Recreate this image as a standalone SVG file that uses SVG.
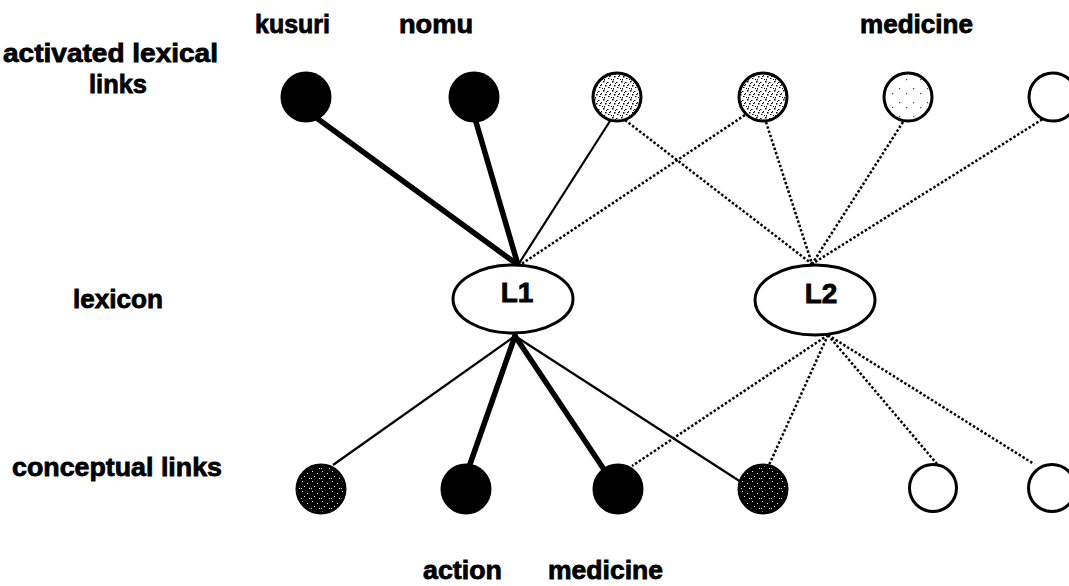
<svg xmlns="http://www.w3.org/2000/svg" width="1069" height="586" viewBox="0 0 1069 586">
  <style>
    .lbl { font-family: "Liberation Sans", Arial, sans-serif; font-weight: 700; font-size: 26px; fill: #000; stroke: #000; stroke-width: 0.8; }
    .big { font-size: 28px; }
    .node { stroke: #000; stroke-width: 3; }
    .thick { stroke: #000; stroke-width: 5.5; fill: none; stroke-linecap: round; }
    .thin { stroke: #000; stroke-width: 2.2; fill: none; }
    .dot { stroke: #000; stroke-width: 2.5; fill: none; stroke-dasharray: 2.5 2; }
  </style>
  <defs>
    <!-- light speckle: white ground with scattered dark grains -->
    <pattern id="speckleLight" width="9" height="9" patternUnits="userSpaceOnUse">
      <rect width="9" height="9" fill="#fff"/>
      <rect x="0" y="0" width="1.5" height="1.5" fill="#000"/>
      <rect x="4" y="1" width="1.5" height="1" fill="#000"/>
      <rect x="7" y="3" width="1" height="1.5" fill="#000"/>
      <rect x="2" y="4" width="1.5" height="1.5" fill="#000"/>
      <rect x="5" y="6" width="1.5" height="1" fill="#000"/>
      <rect x="1" y="7" width="1" height="1.5" fill="#000"/>
      <rect x="8" y="7" width="1" height="1" fill="#000"/>
      <rect x="3" y="2" width="1" height="1" fill="#000"/>
      <rect x="6" y="4" width="1" height="1" fill="#000"/>
    </pattern>
    <!-- sparse dots on white -->
    <pattern id="speckleSparse" width="14" height="14" patternUnits="userSpaceOnUse">
      <rect width="14" height="14" fill="#fff"/>
      <rect x="3" y="4" width="1.2" height="1.2" fill="#444"/>
      <rect x="10" y="9" width="1.2" height="1.2" fill="#444"/>
    </pattern>
    <!-- dark speckle: black ground with scattered light grains -->
    <pattern id="speckleDark" width="10" height="10" patternUnits="userSpaceOnUse">
      <rect width="10" height="10" fill="#000"/>
      <rect x="2" y="1" width="1" height="1" fill="#fff"/>
      <rect x="7" y="3" width="1" height="1" fill="#fff"/>
      <rect x="4" y="6" width="1" height="1" fill="#fff"/>
      <rect x="9" y="8" width="1" height="1" fill="#fff"/>
      <rect x="1" y="8" width="1" height="1" fill="#ccc"/>
    </pattern>
  </defs>

  <rect width="1069" height="586" fill="#fff"/>

  <!-- row labels -->
  <g id="row-labels">
    <text class="lbl" x="3" y="62" textLength="215" lengthAdjust="spacingAndGlyphs">activated lexical</text>
    <text class="lbl" x="89" y="93" textLength="58" lengthAdjust="spacingAndGlyphs">links</text>
    <text class="lbl" x="73" y="308" textLength="90" lengthAdjust="spacingAndGlyphs">lexicon</text>
    <text class="lbl" x="12" y="476" textLength="210" lengthAdjust="spacingAndGlyphs">conceptual links</text>
  </g>

  <!-- word labels -->
  <g id="word-labels">
    <text class="lbl" x="255" y="33" textLength="75" lengthAdjust="spacingAndGlyphs">kusuri</text>
    <text class="lbl" x="399" y="33" textLength="74" lengthAdjust="spacingAndGlyphs">nomu</text>
    <text class="lbl" x="860" y="33" textLength="113" lengthAdjust="spacingAndGlyphs">medicine</text>
    <text class="lbl" x="423" y="579" textLength="79" lengthAdjust="spacingAndGlyphs">action</text>
    <text class="lbl" x="548" y="579" textLength="115" lengthAdjust="spacingAndGlyphs">medicine</text>
  </g>

  <!-- connectors -->
  <g id="connectors">
    <!-- lexical links into L1 -->
    <line class="thick" x1="318" y1="119" x2="518" y2="265"/>
    <line class="thick" x1="476" y1="122" x2="518" y2="265"/>
    <line class="thin" x1="610" y1="121" x2="518" y2="265"/>
    <line class="dot" x1="745" y1="115" x2="520" y2="265"/>
    <!-- lexical links into L2 -->
    <line class="dot" x1="625" y1="120" x2="812" y2="264"/>
    <line class="dot" x1="766" y1="122" x2="812" y2="264"/>
    <line class="dot" x1="903" y1="122" x2="812" y2="264"/>
    <line class="dot" x1="1046" y1="117" x2="812" y2="264"/>
    <!-- conceptual links from L1 -->
    <line class="thin" x1="515" y1="336" x2="333" y2="465"/>
    <line class="thick" x1="515" y1="336" x2="469" y2="467"/>
    <line class="thick" x1="515" y1="336" x2="605" y2="471"/>
    <line class="thin" x1="515" y1="336" x2="741" y2="482"/>
    <!-- conceptual links from L2 -->
    <line class="dot" x1="828" y1="335" x2="632" y2="466"/>
    <line class="dot" x1="828" y1="335" x2="769" y2="465"/>
    <line class="dot" x1="828" y1="335" x2="937" y2="464"/>
    <line class="dot" x1="828" y1="335" x2="1034" y2="464"/>
  </g>

  <!-- lexical link nodes -->
  <g id="lex-1"><circle class="node" cx="306" cy="97" r="24" fill="#000"/></g>
  <g id="lex-2"><circle class="node" cx="474" cy="97" r="24" fill="#000"/></g>
  <g id="lex-3"><circle class="node" cx="617" cy="97" r="24" fill="url(#speckleLight)" stroke-width="3.5"/></g>
  <g id="lex-4"><circle class="node" cx="763" cy="97" r="24" fill="url(#speckleLight)" stroke-width="3.5"/></g>
  <g id="lex-5"><circle class="node" cx="908" cy="97" r="24" fill="url(#speckleSparse)"/></g>
  <g id="lex-6"><circle class="node" cx="1053" cy="97" r="24" fill="#fff"/></g>

  <!-- lexicon nodes -->
  <g id="L1">
    <ellipse class="node" cx="513" cy="299" rx="60" ry="34" fill="#fff" stroke-width="2.5"/>
    <text class="lbl big" x="517" y="302" text-anchor="middle">L1</text>
  </g>
  <g id="L2">
    <ellipse class="node" cx="815" cy="300" rx="60" ry="35" fill="#fff" stroke-width="2.5"/>
    <text class="lbl big" x="821" y="303" text-anchor="middle">L2</text>
  </g>

  <!-- conceptual link nodes -->
  <g id="con-1"><circle class="node" cx="321" cy="489" r="24" fill="url(#speckleDark)" stroke-width="2"/></g>
  <g id="con-2"><circle class="node" cx="466" cy="489" r="24" fill="#000"/></g>
  <g id="con-3"><circle class="node" cx="618" cy="489" r="24" fill="#000"/></g>
  <g id="con-4"><circle class="node" cx="763" cy="489" r="24" fill="url(#speckleDark)" stroke-width="2"/></g>
  <g id="con-5"><circle class="node" cx="933" cy="488" r="23.5" fill="#fff"/></g>
  <g id="con-6"><circle class="node" cx="1052" cy="488" r="23.5" fill="#fff"/></g>
</svg>
